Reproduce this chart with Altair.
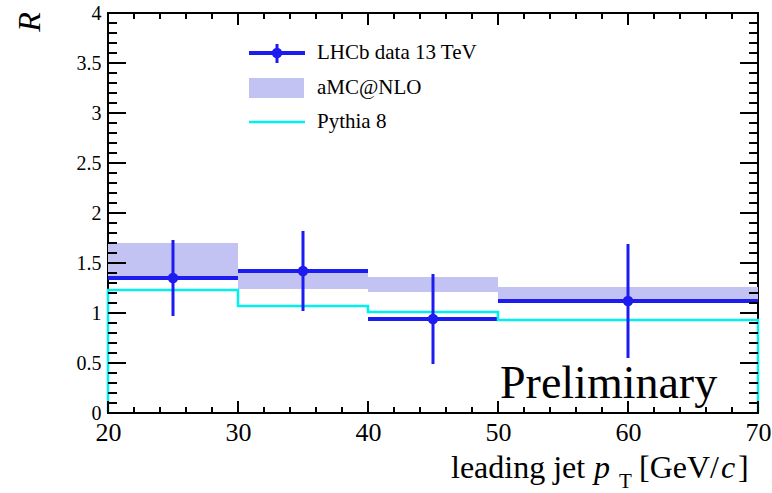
import altair as alt
import pandas as pd

# ---- data ----
bin_lo = [20, 30, 40, 50]
bin_hi = [30, 40, 50, 70]
bin_center = [25, 35, 45, 60]
data_R = [1.35, 1.42, 0.94, 1.12]
data_err = [0.38, 0.40, 0.45, 0.57]
amc_lo = [1.36, 1.24, 1.21, 1.14]
amc_hi = [1.70, 1.43, 1.36, 1.26]
pythia = [1.23, 1.07, 1.01, 0.93]

x_labels = [20, 30, 40, 50, 60, 70]
y_labels = [0, 0.5, 1, 1.5, 2, 2.5, 3, 3.5, 4]

FONT = "Liberation Serif"
BLUE = "#1c1cf0"
CYAN = "#00f0f0"
BAND = "#c2c2f3"

W, H = 650, 400
L, T = 108, 13

df = pd.DataFrame({
    "lo": bin_lo, "hi": bin_hi, "c": bin_center, "R": data_R,
    "Rlo": [r - e for r, e in zip(data_R, data_err)],
    "Rhi": [r + e for r, e in zip(data_R, data_err)],
    "alo": amc_lo, "ahi": amc_hi,
})

step_x = [bin_lo[0]] + bin_lo + [bin_hi[-1], bin_hi[-1]]
step_y = [0] + pythia + [pythia[-1], 0]
df_py = pd.DataFrame({"x": step_x, "y": step_y, "o": list(range(len(step_x)))})

xs = alt.Scale(domain=[20, 70], nice=False, zero=False)
ys = alt.Scale(domain=[0, 4], nice=False, zero=False)

x_axis = alt.Axis(values=x_labels, ticks=False, domain=False, grid=False, title=None,
                  labelFont=FONT, labelFontSize=26, labelPadding=6, labelFlush=False,
                  labelOverlap=False, labelColor="black", format="d")
y_axis = alt.Axis(values=y_labels, ticks=False, domain=False, grid=False, title=None,
                  labelFont=FONT, labelFontSize=20, labelPadding=7, labelFlush=False,
                  labelOverlap=False, labelColor="black", format="~g")


def X(f):
    return alt.X(f, scale=xs, axis=x_axis)


def Y(f):
    return alt.Y(f, scale=ys, axis=y_axis)


base = alt.Chart(df)

band = base.mark_rect(color=BAND, opacity=1).encode(
    x=X("lo:Q"), x2="hi:Q", y=Y("alo:Q"), y2="ahi:Q")

hbar = base.mark_rule(color=BLUE, strokeWidth=4).encode(
    x=X("lo:Q"), x2="hi:Q", y=Y("R:Q"))
vbar = base.mark_rule(color=BLUE, strokeWidth=3).encode(
    x=X("c:Q"), y=Y("Rlo:Q"), y2="Rhi:Q")
pts = base.mark_circle(color=BLUE, opacity=1, size=110).encode(
    x=X("c:Q"), y=Y("R:Q"))

py_line = alt.Chart(df_py).mark_line(color=CYAN, strokeWidth=2.5, interpolate="step-after").encode(
    x=X("x:Q"), y=Y("y:Q"), order="o:Q")

# ---- inward ticks on all four sides ----
yt = pd.DataFrame({"v": [i / 10 for i in range(41)], "major": [i % 5 == 0 for i in range(41)]})
xt = pd.DataFrame({"v": [20 + 2 * i for i in range(26)], "major": [i % 5 == 0 for i in range(26)]})


def yticks(major, left):
    ln = 18 if major else 9
    d = yt[yt["major"] == major]
    x0, x1 = (0, ln) if left else (W - ln, W)
    return alt.Chart(d).mark_rule(color="black", strokeWidth=2).encode(
        y=Y("v:Q"), x=alt.value(x0), x2=alt.value(x1))


def xticks(major, bottom):
    ln = 12 if major else 6
    d = xt[xt["major"] == major]
    y0, y1 = (H - ln, H) if bottom else (0, ln)
    return alt.Chart(d).mark_rule(color="black", strokeWidth=2).encode(
        x=X("v:Q"), y=alt.value(y0), y2=alt.value(y1))


ticks = [yticks(m, s) for m in (True, False) for s in (True, False)] + \
        [xticks(m, s) for m in (True, False) for s in (True, False)]

one = pd.DataFrame({"a": [0]})


def txt(s, px, py, size, style="normal", align="left", baseline="alphabetic", angle=0):
    kw = dict(text=s, font=FONT, fontSize=size, fontStyle=style, align=align,
              baseline=baseline, color="black")
    if angle:
        kw["angle"] = angle
    return alt.Chart(one).mark_text(**kw).encode(x=alt.value(px - L), y=alt.value(py - T))


texts = [
    txt("leading jet", 451, 478, 32),
    txt("p", 594, 478, 32, style="italic"),
    txt("T", 619, 488, 21),
    txt("[GeV/", 639, 478, 32),
    txt("c", 721, 478, 32, style="italic"),
    txt("]", 738, 478, 32),
    txt("R", 30, 22, 32, style="italic", align="center", baseline="middle", angle=270),
    txt("Preliminary", 500, 398, 46),
    txt("LHCb data 13 TeV", 317, 53, 21, baseline="middle"),
    txt("aMC@NLO", 317, 88, 21, baseline="middle"),
    txt("Pythia 8", 317, 122, 21, baseline="middle"),
]

# ---- legend symbols ----
leg = [
    alt.Chart(one).mark_rule(color=BLUE, strokeWidth=4).encode(
        x=alt.value(249 - L), x2=alt.value(305 - L), y=alt.value(53 - T)),
    alt.Chart(one).mark_rule(color=BLUE, strokeWidth=3).encode(
        x=alt.value(277 - L), y=alt.value(44 - T), y2=alt.value(63 - T)),
    alt.Chart(one).mark_circle(color=BLUE, opacity=1, size=110).encode(
        x=alt.value(277 - L), y=alt.value(53 - T)),
    alt.Chart(one).mark_rect(color=BAND, opacity=1).encode(
        x=alt.value(249 - L), x2=alt.value(304 - L), y=alt.value(78 - T), y2=alt.value(98 - T)),
    alt.Chart(one).mark_rule(color=CYAN, strokeWidth=2.5).encode(
        x=alt.value(249 - L), x2=alt.value(305 - L), y=alt.value(122 - T)),
]

chart = alt.layer(band, hbar, py_line, vbar, pts, *ticks, *leg, *texts).properties(
    width=W, height=H,
    autosize=alt.AutoSizeParams(type="none"),
    padding={"left": L, "top": T, "right": 772 - L - W, "bottom": 493 - T - H},
    background="white",
).configure_view(stroke="black", strokeWidth=2)

chart.save("out.html", embed_options={"renderer": "svg", "actions": False})
